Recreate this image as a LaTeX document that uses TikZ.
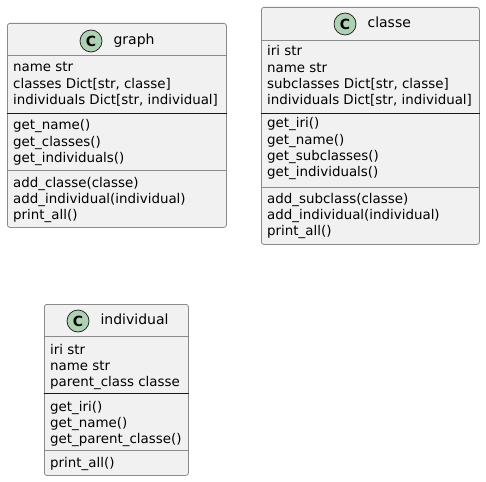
\documentclass[tikz,border=0pt]{standalone}
\usepackage{fontspec}
\setmainfont{DejaVu Sans}
\usetikzlibrary{positioning}

\definecolor{boxfill}{HTML}{F1F1F1}
\definecolor{boxline}{HTML}{8A8A8A}
\definecolor{circfill}{HTML}{ADD1B2}
\definecolor{inkdark}{HTML}{181818}

\tikzset{
	umlbox/.style={draw=boxline, fill=boxfill, rounded corners=2.5pt, line width=0.8pt, anchor=north west, inner sep=0pt},
	sepgray/.style={draw=boxline, line width=0.8pt},
	sepblack/.style={draw=inkdark, line width=0.8pt},
	circ/.style={circle, draw=inkdark, fill=circfill, line width=0.7pt, minimum size=22pt, inner sep=0pt, font=\fontsize{14}{14}\selectfont\bfseries},
	title/.style={inner sep=0pt, anchor=west, text height=10pt, text depth=3pt, font=\fontsize{14}{16}\selectfont},
	member/.style={inner sep=0pt, anchor=base west, font=\fontsize{13.4}{16}\selectfont}
}

\begin{document}
\begin{tikzpicture}[x=1pt, y=-1pt]
	\useasboundingbox (0,0) rectangle (486,481);

	% graph
	\node[umlbox, minimum width=219pt, minimum height=204pt] (graph) at (7,23) {};
	\node[circ] (graphC) at (91,41) {C};
	\node[title, right=11pt of graphC] (graphT) {graph};
	\draw[sepgray] (graph.west |- 0,55) -- (graph.east |- 0,55);
	\draw[sepblack] (graph.west |- 0,113) -- (graph.east |- 0,113);
	\draw[sepgray] (graph.west |- 0,170) -- (graph.east |- 0,170);
	\foreach \txt [count=\i from 0] in {name str, {classes Dict[str, classe]}, {individuals Dict[str, individual]}}
		\node[member] (graphA\i) at (13,72+16.4*\i) {\txt};
	\foreach \txt [count=\i from 0] in {get\_name(), get\_classes(), get\_individuals()}
		\node[member] (graphM\i) at (13,130+16.2*\i) {\txt};
	\foreach \txt [count=\i from 0] in {add\_classe(classe), add\_individual(individual), print\_all()}
		\node[member] (graphO\i) at (13,187+16.2*\i) {\txt};

	% classe
	\node[umlbox, minimum width=218pt, minimum height=237pt] (classe) at (261,7) {};
	\node[circ] (classeC) at (345,24) {C};
	\node[title, right=11pt of classeC] (classeT) {classe};
	\draw[sepgray] (classe.west |- 0,40) -- (classe.east |- 0,40);
	\draw[sepblack] (classe.west |- 0,113) -- (classe.east |- 0,113);
	\draw[sepgray] (classe.west |- 0,187) -- (classe.east |- 0,187);
	\foreach \txt [count=\i from 0] in {iri str, name str, {subclasses Dict[str, classe]}, {individuals Dict[str, individual]}}
		\node[member] (classeA\i) at (267,56+16.3*\i) {\txt};
	\foreach \txt [count=\i from 0] in {get\_iri(), get\_name(), get\_subclasses(), get\_individuals()}
		\node[member] (classeM\i) at (267,128+16.3*\i) {\txt};
	\foreach \txt [count=\i from 0] in {add\_subclass(classe), add\_individual(individual), print\_all()}
		\node[member] (classeO\i) at (267,203+16.2*\i) {\txt};

	% individual
	\node[umlbox, minimum width=144pt, minimum height=171pt] (indiv) at (44,304) {};
	\node[circ] (indivC) at (78,321) {C};
	\node[title, right=11pt of indivC] (indivT) {individual};
	\draw[sepgray] (indiv.west |- 0,336) -- (indiv.east |- 0,336);
	\draw[sepblack] (indiv.west |- 0,393) -- (indiv.east |- 0,393);
	\draw[sepgray] (indiv.west |- 0,450) -- (indiv.east |- 0,450);
	\foreach \txt [count=\i from 0] in {iri str, name str, parent\_class classe}
		\node[member] (indivA\i) at (50,354+16.2*\i) {\txt};
	\foreach \txt [count=\i from 0] in {get\_iri(), get\_name(), get\_parent\_classe()}
		\node[member] (indivM\i) at (50,411+16.2*\i) {\txt};
	\node[member] (indivO0) at (50,467) {print\_all()};
\end{tikzpicture}
\end{document}
